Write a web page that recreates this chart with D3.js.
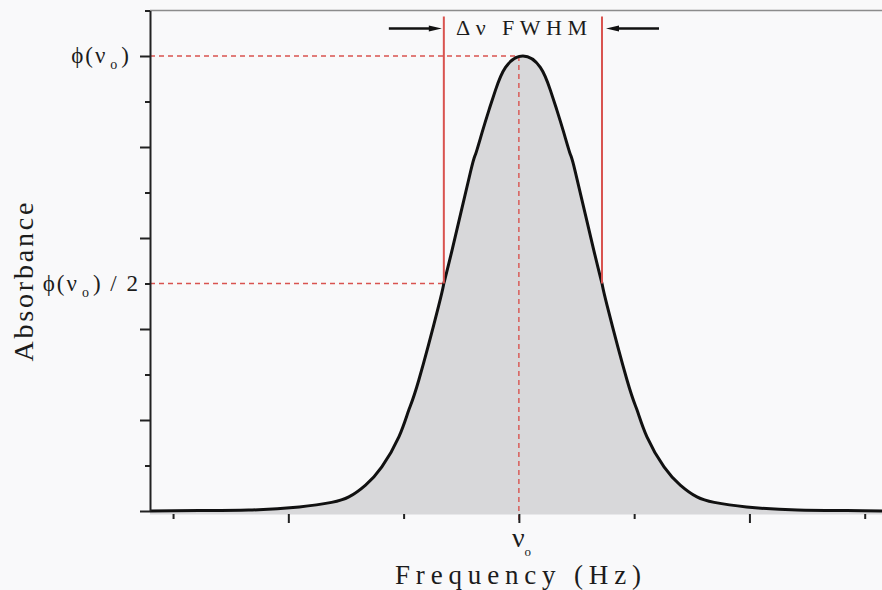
<!DOCTYPE html>
<html>
<head>
<meta charset="utf-8">
<script src="https://cdn.jsdelivr.net/npm/d3@7"></script>
<style>
  html, body { margin: 0; padding: 0; background: #f9f9fa; }
  svg { display: block; }
  text { font-family: "Liberation Serif", "Times New Roman", serif; fill: #1c1c1c; }
</style>
</head>
<body>
<svg id="chart" width="882" height="590"></svg>
<script>
// Absorption line profile (frequency offset from line centre, relative absorbance)
const frequency = [-3.2, -2.775, -2.345, -1.905, -1.625, -1.475, -1.33, -1.189, -1.041, -0.955, -0.868,
  -0.695, -0.651, -0.579, -0.42, -0.376, -0.319, -0.261, -0.203, -0.116, 0.035,
  0.186, 0.273, 0.331, 0.389, 0.446, 0.49, 0.649, 0.721, 0.765, 0.938, 1.025, 1.111, 1.259,
  1.4, 1.545, 1.695, 1.975, 2.415, 2.845, 3.15];
const absorbance = [0, 0.001, 0.002, 0.009, 0.019, 0.031, 0.057, 0.097, 0.163, 0.222, 0.288,
  0.452, 0.5, 0.574, 0.745, 0.784, 0.832, 0.88, 0.925, 0.975, 1.0,
  0.975, 0.925, 0.88, 0.832, 0.784, 0.745, 0.574, 0.5, 0.452, 0.288, 0.222, 0.163, 0.097,
  0.057, 0.031, 0.019, 0.009, 0.002, 0.001, 0];

// Line centre, peak and half-maximum crossings
const lineCentre = 0;
const peakValue = 1.0;
const halfValue = 0.5;
const fwhmEdges = [-0.651, 0.721];

// Axis ticks
const xMajorTicks = [-2, 0, 2];
const xMinorTicks = [-3, -1, 1, 3];
const yMajorTicks = [0, 0.2, 0.4, 0.6, 0.8, 1.0];
const yMinorTicks = [0.1, 0.3, 0.5, 0.7, 0.9, 1.1];

const xTitle = "Frequency (Hz)";
const yTitle = "Absorbance";
const widthLabel = "Δν FWHM";

const svg = d3.select("#chart");
const red = "#d9534f";

const x = d3.scaleLinear().domain([-3.2, 3.15]).range([150, 882]);
const y = d3.scaleLinear().domain([0, 1.1]).range([511, 10.5]);
const pts = frequency.map((f, i) => ({ f, a: absorbance[i] }));
const smooth = d3.curveNatural;

// top frame line
svg.append("line")
  .attr("x1", x(-3.2)).attr("x2", 882).attr("y1", y(1.1)).attr("y2", y(1.1))
  .attr("stroke", "#8c8c8c").attr("stroke-width", 1.5);

// filled profile
const area = d3.area().x(d => x(d.f)).y0(514.5).y1(d => y(d.a)).curve(smooth);
svg.append("path").datum(pts).attr("d", area).attr("fill", "#d8d8da");

// reference lines (dashed)
const dashed = svg.append("g").attr("stroke", red).attr("stroke-width", 1.4)
  .attr("stroke-dasharray", "5,4").attr("fill", "none");
dashed.append("line").attr("x1", x(-3.2)).attr("x2", x(lineCentre))
  .attr("y1", y(peakValue)).attr("y2", y(peakValue));
dashed.append("line").attr("x1", x(-3.2)).attr("x2", x(fwhmEdges[0]))
  .attr("y1", y(halfValue)).attr("y2", y(halfValue));
dashed.append("line").attr("x1", x(lineCentre)).attr("x2", x(lineCentre))
  .attr("y1", y(peakValue)).attr("y2", 520);

// profile outline
const line = d3.line().x(d => x(d.f)).y(d => y(d.a)).curve(smooth);
svg.append("path").datum(pts).attr("d", line)
  .attr("fill", "none").attr("stroke", "#111").attr("stroke-width", 3)
  .attr("stroke-linejoin", "round");

// FWHM markers
fwhmEdges.forEach(e => {
  svg.append("line").attr("x1", x(e)).attr("x2", x(e))
    .attr("y1", 16.5).attr("y2", y(halfValue))
    .attr("stroke", red).attr("stroke-width", 2);
});

// arrows pointing at the FWHM markers
function arrow(x0, x1, yy) {
  const dir = Math.sign(x1 - x0);
  const head = 13, hw = 3;
  svg.append("line").attr("x1", x0).attr("x2", x1 - dir * head + dir * 2).attr("y1", yy).attr("y2", yy)
    .attr("stroke", "#111").attr("stroke-width", 2.4);
  svg.append("path")
    .attr("d", `M${x1},${yy} L${x1 - dir * head},${yy - hw} L${x1 - dir * head},${yy + hw} Z`)
    .attr("fill", "#111");
}
arrow(x(fwhmEdges[0]) - 55, x(fwhmEdges[0]) - 2, 28.5);
arrow(x(fwhmEdges[1]) + 57, x(fwhmEdges[1]) + 4, 28.5);

svg.append("text").attr("x", 521.5).attr("y", 35)
  .attr("text-anchor", "middle").attr("font-size", 22)
  .attr("textLength", 131).attr("lengthAdjust", "spacing")
  .text(widthLabel);

// y axis
const yMajor = svg.append("g").attr("transform", "translate(150,0)")
  .call(d3.axisLeft(y).tickValues(yMajorTicks).tickSize(10).tickSizeOuter(0).tickFormat(""));
const yMinor = svg.append("g").attr("transform", "translate(150,0)")
  .call(d3.axisLeft(y).tickValues(yMinorTicks).tickSize(5).tickSizeOuter(0).tickFormat(""));
yMinor.select(".domain").remove();
[yMajor, yMinor].forEach(g => {
  g.selectAll("line").attr("stroke", "#222").attr("stroke-width", 2);
  g.selectAll(".domain").attr("stroke", "#222").attr("stroke-width", 2);
});

// x axis
const xMajor = svg.append("g").attr("transform", "translate(0,514)")
  .call(d3.axisBottom(x).tickValues(xMajorTicks).tickSize(9).tickFormat(""));
const xMinor = svg.append("g").attr("transform", "translate(0,514)")
  .call(d3.axisBottom(x).tickValues(xMinorTicks).tickSize(5).tickFormat(""));
[xMajor, xMinor].forEach(g => {
  g.select(".domain").remove();
  g.selectAll("line").attr("stroke", "#222").attr("stroke-width", 2);
});

// tick labels with subscript
function phiLabel(xEnd, yy, suffix) {
  const t = svg.append("text").attr("x", xEnd).attr("y", yy)
    .attr("text-anchor", "end").attr("font-size", 23).attr("letter-spacing", 2);
  t.append("tspan").text("ϕ(ν");
  t.append("tspan").attr("font-size", 14).attr("dy", 6).attr("dx", 3).text("o");
  t.append("tspan").attr("dy", -6).attr("dx", 2).text(")" + suffix);
}
phiLabel(131, y(peakValue) + 7, "");
phiLabel(140, y(halfValue) + 7, " / 2");

const nu = svg.append("text").attr("x", x(lineCentre) - 7).attr("y", 547)
  .attr("text-anchor", "start").attr("font-size", 28);
nu.append("tspan").text("ν");
nu.append("tspan").attr("font-size", 13).attr("dx", 0).attr("dy", 9).text("o");

// axis titles
svg.append("text").attr("x", 518).attr("y", 584)
  .attr("text-anchor", "middle").attr("font-size", 27)
  .attr("textLength", 246).attr("lengthAdjust", "spacing")
  .text(xTitle);
svg.append("text").attr("transform", "translate(33,282) rotate(-90)")
  .attr("text-anchor", "middle").attr("font-size", 28)
  .attr("textLength", 159).attr("lengthAdjust", "spacing")
  .text(yTitle);
</script>
</body>
</html>
